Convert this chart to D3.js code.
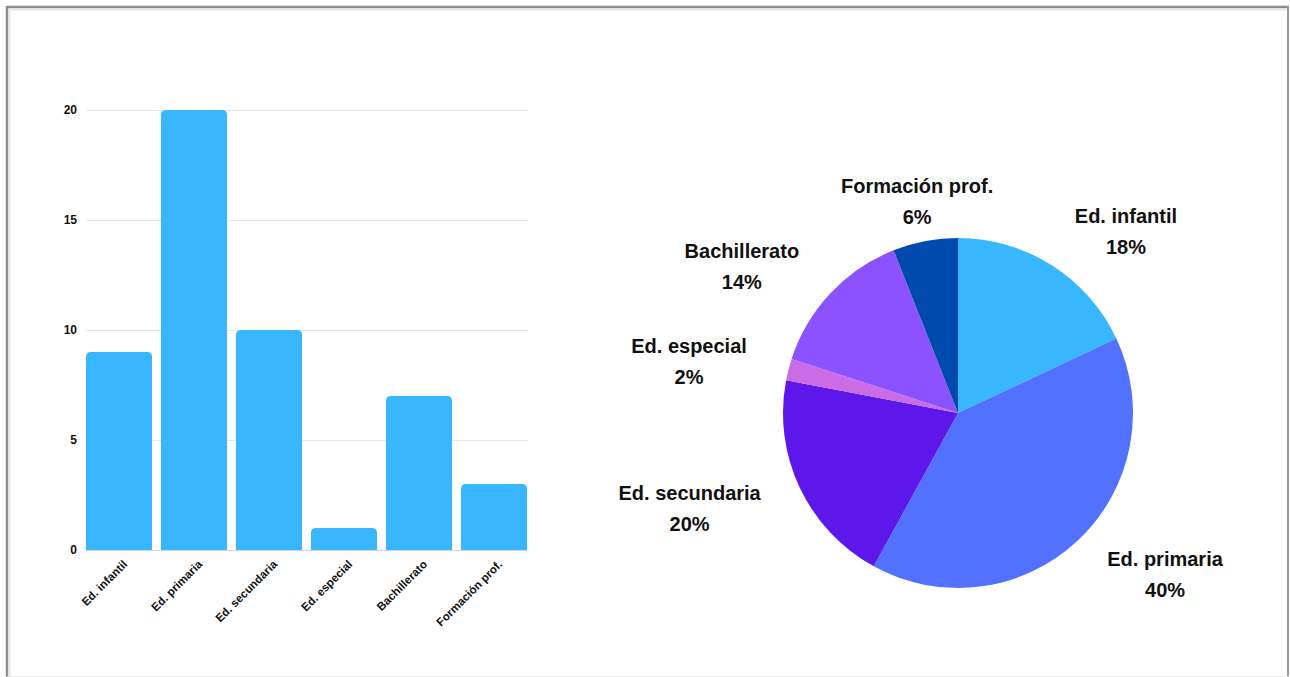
<!DOCTYPE html>
<html>
<head>
<meta charset="utf-8">
<script src="https://cdn.jsdelivr.net/npm/d3@7"></script>
<style>
  html, body { margin: 0; padding: 0; background: #fff; }
  svg { display: block; }
  text { font-family: "Liberation Sans", Arial, Helvetica, sans-serif; font-weight: bold; fill: #111; }
</style>
</head>
<body>
<svg id="chart" width="1290" height="677"></svg>
<script>
const categories = ["Ed. infantil", "Ed. primaria", "Ed. secundaria", "Ed. especial", "Bachillerato", "Formación prof."];
const values = [9, 20, 10, 1, 7, 3];
const yTicks = [0, 5, 10, 15, 20];
const pieColors = ["#38B6FF", "#5271FF", "#5E17EB", "#CB6CE6", "#8C52FF", "#004AAD"];
const barColor = "#38B6FF";

const svg = d3.select("#chart");

// frame (screenshot border)
svg.append("rect").attr("x", 0).attr("y", 0).attr("width", 1290).attr("height", 677).attr("fill", "#fff");
svg.append("line").attr("x1", 7).attr("x2", 1289).attr("y1", 7).attr("y2", 7).attr("stroke", "#8c8c8c").attr("stroke-width", 2.5);
svg.append("line").attr("x1", 7).attr("x2", 7).attr("y1", 6).attr("y2", 677).attr("stroke", "#8c8c8c").attr("stroke-width", 2.5);
svg.append("line").attr("x1", 1288).attr("x2", 1288).attr("y1", 6).attr("y2", 677).attr("stroke", "#9a9a9a").attr("stroke-width", 2);
svg.append("line").attr("x1", 9.5).attr("x2", 1287).attr("y1", 9.5).attr("y2", 9.5).attr("stroke", "#e6e6e6").attr("stroke-width", 2);
svg.append("line").attr("x1", 9.5).attr("x2", 9.5).attr("y1", 9).attr("y2", 677).attr("stroke", "#e6e6e6").attr("stroke-width", 2);
svg.append("line").attr("x1", 7).attr("x2", 1289).attr("y1", 676.5).attr("y2", 676.5).attr("stroke", "#e8e8e8").attr("stroke-width", 1);

// ---------- Bar chart ----------
const x = d3.scaleBand().domain(categories).range([86, 527]).paddingInner(0.12).paddingOuter(0);
const y = d3.scaleLinear().domain([0, 20]).range([550, 110]);

const grid = svg.append("g");
grid.selectAll("line").data(yTicks).join("line")
  .attr("x1", 86).attr("x2", 528)
  .attr("y1", d => Math.round(y(d)) + 0.5).attr("y2", d => Math.round(y(d)) + 0.5)
  .attr("stroke", d => d === 0 ? "#d4d4d4" : "#e6e6e6").attr("stroke-width", 1);

const yAxis = d3.axisLeft(y).tickValues(yTicks).tickSize(0).tickPadding(0);
const yg = svg.append("g").attr("transform", "translate(77,0)").call(yAxis);
yg.select(".domain").remove();
yg.selectAll("text").style("font-size", "12px").attr("fill", "#111")
  .style("font-family", '"Liberation Sans", Arial, sans-serif').style("font-weight", "bold");

function topRounded(x0, y0, w, h, r) {
  r = Math.min(r, h, w / 2);
  return `M${x0},${y0 + h}V${y0 + r}Q${x0},${y0} ${x0 + r},${y0}H${x0 + w - r}Q${x0 + w},${y0} ${x0 + w},${y0 + r}V${y0 + h}Z`;
}

svg.append("g").selectAll("path").data(categories).join("path")
  .attr("d", (c, i) => topRounded(x(c), y(values[i]), x.bandwidth(), y(0) - y(values[i]), 5))
  .attr("fill", barColor);

const xAxis = d3.axisBottom(x).tickSize(0).tickPadding(0);
const xg = svg.append("g").attr("transform", "translate(0,550)").call(xAxis);
xg.select(".domain").remove();
xg.selectAll("text")
  .attr("text-anchor", "end")
  .attr("dy", 0).attr("y", 0)
  .attr("transform", "translate(9,15) rotate(-45)")
  .style("font-size", "11.5px").attr("fill", "#111")
  .style("font-family", '"Liberation Sans", Arial, sans-serif').style("font-weight", "bold");

// ---------- Pie chart ----------
const cx = 958, cy = 413, radius = 175, labelR = 218;
const total = d3.sum(values);
const pie = d3.pie().sort(null).value(d => d)(values);
const arc = d3.arc().innerRadius(0).outerRadius(radius);

const pg = svg.append("g").attr("transform", `translate(${cx},${cy})`);
pg.selectAll("path").data(pie).join("path")
  .attr("d", arc)
  .attr("fill", (d, i) => pieColors[i]);

const lg = pg.append("g");
pie.forEach((d, i) => {
  const a = (d.startAngle + d.endAngle) / 2;
  const s = Math.sin(a), c = Math.cos(a);
  const px = labelR * s, py = -labelR * c;
  const t = lg.append("text").attr("text-anchor", "middle").style("font-size", "20px");
  const n = t.append("tspan").attr("x", 0).attr("y", py - 5.5).text(categories[i]);
  const p = t.append("tspan").attr("x", 0).attr("y", py + 25.5).text(Math.round(values[i] / total * 100) + "%");
  const w = n.node().getComputedTextLength();
  const mx = s > 0.5 ? px + w / 2 : (s < -0.5 ? px - w / 2 : px);
  n.attr("x", mx); p.attr("x", mx);
});
</script>
</body>
</html>
